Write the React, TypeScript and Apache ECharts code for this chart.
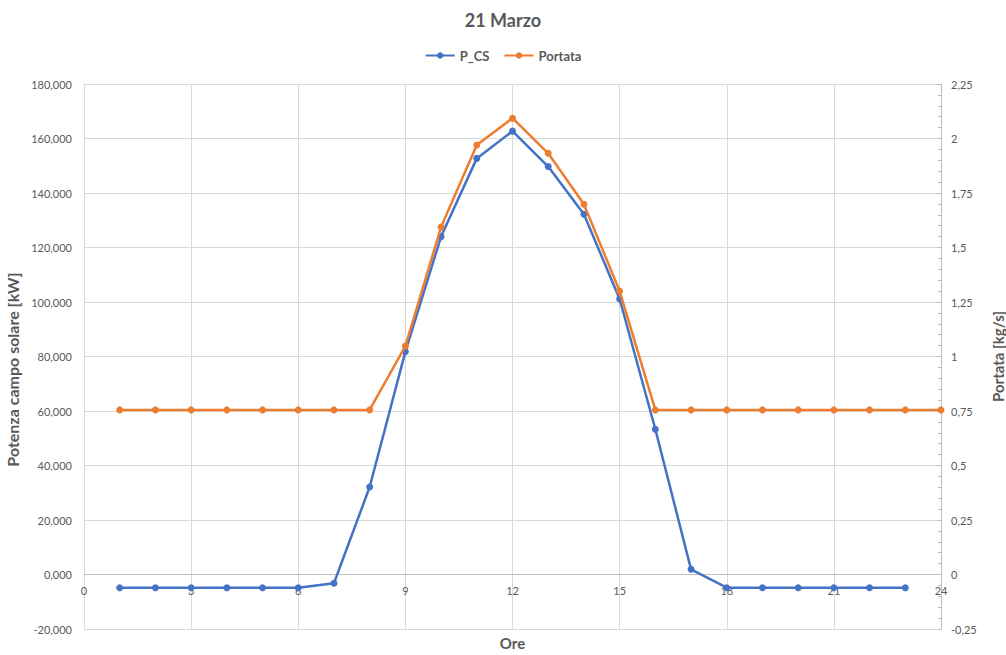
import React, { useEffect, useRef } from "react";
import * as echarts from "echarts";

const hours = [1, 2, 3, 4, 5, 6, 7, 8, 9, 10, 11, 12, 13, 14, 15, 16, 17, 18, 19, 20, 21, 22, 23, 24];
const pcsValues = [
  -4.84, -4.84, -4.84, -4.84, -4.84, -4.84, -3.2, 32.1, 81.8, 124.0, 152.7, 162.7,
  149.7, 132.2, 101.1, 53.3, 1.9, -4.84, -4.84, -4.84, -4.84, -4.84, -4.84,
];
const portataValues = [
  0.755, 0.755, 0.755, 0.755, 0.755, 0.755, 0.755, 0.755, 1.048, 1.594, 1.97, 2.093,
  1.932, 1.698, 1.3, 0.755, 0.755, 0.755, 0.755, 0.755, 0.755, 0.755, 0.755, 0.755,
];

const FONT = "Lato, 'Open Sans', sans-serif";
const GREY = "#595959";

export default function App() {
  const ref = useRef<HTMLDivElement>(null);
  useEffect(() => {
    if (!ref.current) return;
    const chart = echarts.init(ref.current, undefined, { renderer: "svg" });
    const pcsData = pcsValues.map((v, i) => [hours[i], v]);
    const portataData = portataValues.map((v, i) => [hours[i], v]);
    chart.setOption({
      animation: false,
      textStyle: { fontFamily: FONT },
      title: {
        text: "21 Marzo",
        left: "center",
        top: 6,
        textStyle: { fontFamily: FONT, fontSize: 18, fontWeight: "bold", color: GREY },
      },
      legend: {
        top: 44,
        left: "center",
        itemWidth: 29,
        itemHeight: 8,
        itemGap: 14,
        textStyle: { fontFamily: FONT, fontSize: 13, fontWeight: "bold", color: GREY },
        data: ["P_CS", "Portata"],
      },
      grid: { left: 84, right: 65, top: 84, bottom: 26, containLabel: false, outerBoundsMode: "none" },
      xAxis: {
        type: "value",
        min: 0,
        max: 24,
        interval: 3,
        name: "Ore",
        nameLocation: "middle",
        nameGap: 6,
        nameTextStyle: { fontFamily: FONT, fontSize: 15, fontWeight: "bold", color: GREY },
        axisLine: { show: true, lineStyle: { color: "#d9d9d9", width: 1 } },
        axisTick: { show: false },
        axisLabel: { color: GREY, fontSize: 11, margin: -44, fontFamily: FONT },
        splitLine: { show: true, lineStyle: { color: "#d9d9d9", width: 1 } },
      },
      yAxis: [
        {
          type: "value",
          position: "left",
          min: -20,
          max: 180,
          interval: 20,
          name: "Potenza campo solare [kW]",
          nameLocation: "middle",
          nameGap: 58,
          nameTextStyle: {
            fontFamily: FONT,
            fontSize: 16,
            fontWeight: "bold",
            color: GREY,
            padding: [0, 26, 0, 0],
          },
          axisLine: { show: true, onZero: false, lineStyle: { color: "#d9d9d9" } },
          axisTick: { show: false },
          axisLabel: {
            color: GREY,
            fontSize: 11,
            margin: 12,
            fontFamily: FONT,
            formatter: (v: number) => v.toFixed(3).replace(".", ","),
          },
          splitLine: { show: true, lineStyle: { color: "#d9d9d9", width: 1 } },
        },
        {
          type: "value",
          min: -0.25,
          max: 2.25,
          interval: 0.25,
          position: "right",
          name: "Portata [kg/s]",
          nameLocation: "middle",
          nameGap: 49,
          nameTextStyle: { fontFamily: FONT, fontSize: 15, fontWeight: "bold", color: GREY },
          axisLine: { show: true, onZero: false, lineStyle: { color: "#bfbfbf" } },
          axisTick: { show: true, inside: true, length: 4, lineStyle: { color: "#bfbfbf" } },
          minorTick: { show: true, splitNumber: 5, length: 3, lineStyle: { color: "#bfbfbf" } },
          axisLabel: {
            color: GREY,
            fontSize: 11,
            margin: 10,
            fontFamily: FONT,
            formatter: (v: number) => String(Math.round(v * 100) / 100).replace(".", ","),
          },
          splitLine: { show: false },
        },
      ],
      series: [
        {
          name: "P_CS",
          type: "line",
          yAxisIndex: 0,
          data: pcsData,
          symbol: "circle",
          symbolSize: 7,
          lineStyle: { color: "#4472C4", width: 2.5 },
          itemStyle: { color: "#4472C4" },
          z: 3,
          markLine: {
            silent: true,
            symbol: "none",
            label: { show: false },
            lineStyle: { color: "#bfbfbf", width: 1, type: "solid" },
            data: [{ yAxis: 0 }],
            z: 1,
          },
        },
        {
          name: "Portata",
          type: "line",
          yAxisIndex: 1,
          data: portataData,
          symbol: "circle",
          symbolSize: 7,
          lineStyle: { color: "#ED7D31", width: 2.5 },
          itemStyle: { color: "#ED7D31" },
          z: 4,
        },
      ],
    });
    return () => chart.dispose();
  }, []);
  return (
    <div
      ref={ref}
      style={{ position: "fixed", left: 0, top: 0, width: 1006, height: 655, background: "#fff" }}
    />
  );
}
